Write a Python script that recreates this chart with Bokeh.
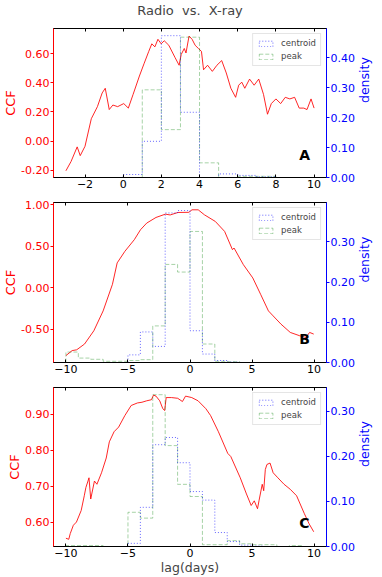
import numpy as np
from bokeh.plotting import figure
from bokeh.models import (Range1d, LinearAxis, FixedTicker, NumeralTickFormatter,
                          Legend, LegendItem, Label, CustomLabelingPolicy)
from bokeh.layouts import column
from bokeh.embed import file_html
from bokeh.resources import INLINE

FONT = "DejaVu Sans"

# ---------------- Panel A data ----------------
lag_a = [-3.0, -2.73, -2.41, -2.25, -2.0, -1.67, -1.35, -1.1, -0.94, -0.73, -0.54, -0.29, 0.03, 0.27,
         0.52, 0.85, 1.09, 1.34, 1.5, 1.66, 1.82, 1.99, 2.15, 2.39, 2.72, 2.93, 3.04, 3.2, 3.29, 3.45,
         3.61, 3.77, 3.94, 4.1, 4.21, 4.42, 4.67, 4.91, 5.16, 5.4, 5.64, 5.89, 6.05, 6.21, 6.37, 6.62,
         6.86, 7.1, 7.35, 7.56, 7.76, 8.0, 8.25, 8.49, 8.73, 8.98, 9.22, 9.46, 9.63, 9.84, 10.0]
ccf_a = [-0.204, -0.14, -0.04, -0.10, -0.036, 0.153, 0.236, 0.33, 0.362, 0.216, 0.247, 0.236, 0.257,
         0.226, 0.32, 0.446, 0.53, 0.615, 0.667, 0.646, 0.698, 0.667, 0.688, 0.657, 0.572, 0.52, 0.594,
         0.635, 0.604, 0.72, 0.698, 0.657, 0.635, 0.615, 0.489, 0.52, 0.478, 0.52, 0.552, 0.467, 0.362,
         0.3, 0.383, 0.404, 0.362, 0.425, 0.383, 0.425, 0.32, 0.184, 0.257, 0.289, 0.257, 0.3, 0.289,
         0.3, 0.226, 0.226, 0.216, 0.289, 0.226]
cent_edges_a = [0, 1, 2, 3, 4, 5, 6, 7, 8]
cent_dens_a = [0.01, 0.121, 0.474, 0.218, 0.0, 0.012, 0.007, 0.002]
peak_edges_a = [1, 2, 3, 4, 5, 6, 7, 8]
peak_dens_a = [0.293, 0.16, 0.469, 0.049, 0.0, 0.004, 0.004]

# ---------------- Panel B data ----------------
lag_b = [-10.0, -9.5, -9.13, -8.5, -7.75, -7.0, -6.25, -5.87, -5.25, -4.49, -3.99, -3.49, -2.74, -1.98,
         -1.6, -0.97, -0.09, 0.16, 0.66, 1.16, 2.04, 2.79, 3.42, 3.55, 4.3, 5.06, 5.69, 6.32, 6.7, 7.33,
         8.08, 8.84, 9.34, 9.64, 9.97]
ccf_b = [-0.815, -0.755, -0.745, -0.676, -0.516, -0.277, 0.043, 0.301, 0.44, 0.58, 0.70, 0.78, 0.848,
         0.888, 0.878, 0.908, 0.91, 0.94, 0.94, 0.88, 0.80, 0.68, 0.46, 0.48, 0.28, 0.12, -0.077, -0.277,
         -0.337, -0.436, -0.536, -0.576, -0.596, -0.536, -0.556]
cent_edges_b = [-5, -4, -3, -2, -1, 0, 1, 2, 3, 4]
cent_dens_b = [0.019, 0.076, 0.04, 0.372, 0.378, 0.079, 0.021, 0.005, 0.001]
peak_edges_b = [-10, -9, -8, -7, -6, -5, -4, -3, -2, -1, 0, 1, 2, 3, 4]
peak_dens_b = [0.026, 0.011, 0.008, 0.003, 0.003, 0.005, 0.007, 0.091, 0.244, 0.225, 0.326, 0.046,
               0.003, 0.002]

# ---------------- Panel C data ----------------
lag_c = [-10.0, -9.77, -9.65, -9.4, -9.15, -8.77, -8.52, -8.39, -8.22, -8.14, -8.0, -7.7, -7.5, -7.13,
         -6.75, -6.5, -6.12, -5.75, -5.25, -4.74, -4.24, -3.87, -3.49, -3.11, -2.94, -2.74, -2.44, -2.19,
         -2.04, -1.92, -1.49, -0.99, -0.61, -0.36, 0.14, 0.65, 1.28, 1.66, 2.29, 3.04, 3.29, 4.05, 4.55,
         4.93, 5.18, 5.44, 5.56, 5.82, 5.94, 6.07, 6.2, 6.45, 6.7, 7.08, 7.58, 8.08, 8.59, 9.22, 9.6, 9.97]
ccf_c = [0.555, 0.552, 0.568, 0.591, 0.60, 0.632, 0.673, 0.696, 0.714, 0.723, 0.664, 0.714, 0.705, 0.737,
         0.778, 0.823, 0.851, 0.864, 0.896, 0.924, 0.931, 0.933, 0.937, 0.94, 0.953, 0.95, 0.937, 0.915,
         0.91, 0.946, 0.946, 0.944, 0.935, 0.95, 0.946, 0.937, 0.915, 0.896, 0.851, 0.791, 0.782, 0.723,
         0.678, 0.646, 0.659, 0.637, 0.659, 0.705, 0.687, 0.746, 0.76, 0.764, 0.737, 0.723, 0.705, 0.691,
         0.673, 0.623, 0.595, 0.573]
cent_edges_c = [-5, -4, -3, -2, -1, 0, 1, 2, 3, 4, 5, 6]
cent_dens_c = [0.007, 0.087, 0.226, 0.242, 0.186, 0.122, 0.103, 0.031, 0.011, 0.003, 0.001]
peak_edges_c = [-10, -9, -8, -7, -6, -5, -4, -3, -2, -1, 0, 1, 2, 3, 4, 5, 6, 7, 8, 9]
peak_dens_c = [0.002, 0.002, 0.002, 0.0, 0.0, 0.076, 0.063, 0.337, 0.224, 0.138, 0.111, 0.004, 0.004,
               0.013, 0.006, 0.004, 0.004, 0.0, 0.002]

# ticks
xticks_a = [-2, 0, 2, 4, 6, 8, 10]
xticks_bc = [-10, -5, 0, 5, 10]
yticks_a = [-0.2, 0.0, 0.2, 0.4, 0.6]
yticks_b = [-0.5, 0.0, 0.5, 1.0]
yticks_c = [0.6, 0.7, 0.8, 0.9]
dticks_a = [0.0, 0.1, 0.2, 0.3, 0.4]
dticks_bc = [0.0, 0.1, 0.2, 0.3]

W = 382

NO_LABELS = """
const ids = [...indices]
for (const i of ids) indices.unset(i)
return indices
"""


def step_xy(edges, vals):
    xs = np.repeat(np.asarray(edges, float), 2)
    ys = np.concatenate([[0.0], np.repeat(np.asarray(vals, float), 2), [0.0]])
    return xs, ys


def make_panel(lag, ccf, ce, cv, pe, pv, xr, yr, dr, xt, yt, dt, letter, height, top, bottom,
               title=None, xlabel=None):
    p = figure(width=W, height=height, x_range=Range1d(*xr), y_range=Range1d(*yr),
               output_backend="svg", toolbar_location=None,
               min_border_left=46, min_border_right=42, min_border_top=top,
               min_border_bottom=bottom)
    p.extra_y_ranges = {"dens": Range1d(*dr)}
    p.grid.visible = False
    p.outline_line_color = "black"
    p.background_fill_color = "white"
    p.border_fill_color = "white"

    if title:
        p.title.text = title
        p.title.align = "center"
        p.title.text_font = FONT
        p.title.text_font_size = "13px"
        p.title.text_font_style = "normal"
        p.title.standoff = 0
        p.title.offset = 0

    xa = p.xaxis[0]
    xa.ticker = FixedTicker(ticks=xt)
    xa.major_tick_in = 3
    xa.major_tick_out = 0
    xa.minor_tick_line_color = None
    xa.major_label_standoff = 2
    xa.major_label_text_font = FONT
    xa.major_label_text_font_size = "11px"
    xa.major_label_text_color = "black"
    xa.axis_line_color = "black"
    if xlabel:
        xa.axis_label = xlabel
        xa.axis_label_text_font = FONT
        xa.axis_label_text_font_size = "12.5px"
        xa.axis_label_text_font_style = "normal"
        xa.axis_label_standoff = 0

    top_ax = LinearAxis(ticker=FixedTicker(ticks=xt), major_tick_in=3, major_tick_out=0,
                        minor_tick_line_color=None, major_label_standoff=0,
                        major_label_policy=CustomLabelingPolicy(code=NO_LABELS),
                        axis_line_color="black")
    p.add_layout(top_ax, "above")

    ya = p.yaxis[0]
    ya.ticker = FixedTicker(ticks=yt)
    ya.formatter = NumeralTickFormatter(format="0.00")
    ya.major_tick_in = 0
    ya.major_tick_out = 3
    ya.minor_tick_line_color = None
    ya.major_label_standoff = 1
    ya.major_label_text_font = FONT
    ya.major_label_text_font_size = "11px"
    ya.major_label_text_color = "#ff0000"
    ya.major_tick_line_color = "#ff0000"
    ya.axis_line_color = "#ff0000"
    ya.axis_label = "CCF"
    ya.axis_label_text_color = "#ff0000"
    ya.axis_label_text_font = FONT
    ya.axis_label_text_font_size = "13px"
    ya.axis_label_text_font_style = "normal"
    ya.axis_label_standoff = 0

    ra = LinearAxis(y_range_name="dens", ticker=FixedTicker(ticks=dt),
                    formatter=NumeralTickFormatter(format="0.00"),
                    major_tick_in=0, major_tick_out=3, minor_tick_line_color=None,
                    major_label_standoff=1, major_label_text_font=FONT,
                    major_label_text_font_size="11px", major_label_text_color="#0000ff",
                    major_tick_line_color="#0000ff", axis_line_color="#0000ff",
                    axis_label="density", axis_label_text_color="#0000ff",
                    axis_label_text_font=FONT, axis_label_text_font_size="12.5px",
                    axis_label_text_font_style="normal", axis_label_standoff=7,
                    axis_label_orientation=np.pi / 2)
    p.add_layout(ra, "right")

    p.line(lag, ccf, line_color="#ff0000", line_width=1, line_alpha=0.85)

    cx, cy = step_xy(ce, cv)
    px, py = step_xy(pe, pv)
    p.line(px, py, y_range_name="dens", line_color="green", line_alpha=0.35, line_width=1,
           line_dash="4 2")
    p.line(cx, cy, y_range_name="dens", line_color="#0000ff", line_alpha=0.6, line_width=1,
           line_dash="1 2")

    # legend proxies (outlined patches, as in a step-histogram legend); not drawn in the plot
    nan = [float("nan")]
    lc = p.quad(left=nan, right=nan, top=nan, bottom=nan, fill_alpha=0, line_color="#0000ff",
                line_alpha=0.6, line_dash="1 2", line_width=1)
    lp = p.quad(left=nan, right=nan, top=nan, bottom=nan, fill_alpha=0, line_color="green",
                line_alpha=0.35, line_dash="4 2", line_width=1)
    leg = Legend(items=[LegendItem(label="centroid", renderers=[lc]),
                        LegendItem(label="peak", renderers=[lp])],
                 location="top_right", margin=5, padding=4, spacing=3,
                 glyph_width=17, glyph_height=7, label_standoff=7,
                 label_text_font=FONT, label_text_font_size="8.5px",
                 label_height=9,
                 border_line_color="#cccccc", border_line_width=1,
                 background_fill_color="white", background_fill_alpha=0.85)
    p.add_layout(leg, "center")

    lx = xr[0] + 0.9 * (xr[1] - xr[0])
    ly = yr[0] + 0.1 * (yr[1] - yr[0])
    p.add_layout(Label(x=lx, y=ly, text=letter, text_font=FONT, text_font_size="14px",
                       text_font_style="bold", text_color="black", text_align="left",
                       text_baseline="bottom"))
    return p


pa = make_panel(lag_a, ccf_a, cent_edges_a, cent_dens_a, peak_edges_a, peak_dens_a,
                (-3.65, 10.65), (-0.25, 0.772), (0.0, 0.498), xticks_a, yticks_a, dticks_a,
                "A", 191, 15, 14, title="Radio \u00a0vs. \u00a0X-ray")
pb = make_panel(lag_b, ccf_b, cent_edges_b, cent_dens_b, peak_edges_b, peak_dens_b,
                (-11.0, 11.0), (-0.898, 1.028), (0.0, 0.398), xticks_bc, yticks_b, dticks_bc,
                "B", 185, 10, 14)
pc = make_panel(lag_c, ccf_c, cent_edges_c, cent_dens_c, peak_edges_c, peak_dens_c,
                (-11.0, 11.0), (0.532, 0.974), (0.0, 0.353), xticks_bc, yticks_c, dticks_bc,
                "C", 201, 9, 30, xlabel="lag(days)")

layout = column(pa, pb, pc, spacing=0)

open("out.html", "w").write(file_html(layout, INLINE))
